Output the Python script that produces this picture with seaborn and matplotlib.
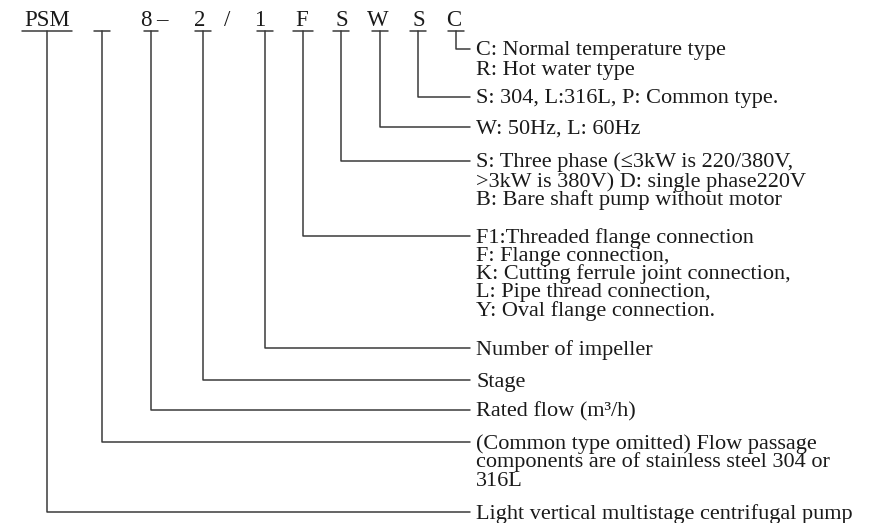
import pandas as pd
import matplotlib
matplotlib.use("Agg")
from matplotlib import pyplot as plt
import seaborn as sns

# Model code pieces (left to right) and their descriptions
codes = ["PSM", "", "8", "2", "1", "F", "S", "W", "S", "C"]
separators = ["–", "/"]
descriptions = [
    ["Light vertical multistage centrifugal pump"],
    ["(Common type omitted) Flow passage",
     "components are of stainless steel 304 or",
     "316L"],
    ["Rated flow (m³/h)"],
    ["Stage"],
    ["Number of impeller"],
    ["F1:Threaded flange connection",
     "F: Flange connection,",
     "K: Cutting ferrule joint connection,",
     "L: Pipe thread connection,",
     "Y: Oval flange connection."],
    ["S: Three phase (≤3kW is 220/380V,",
     ">3kW is 380V) D: single phase220V",
     "B: Bare shaft pump without motor"],
    ["W: 50Hz, L: 60Hz"],
    ["S: 304, L:316L, P: Common type."],
    ["C: Normal temperature type",
     "R: Hot water type"],
]

# layout (pixel space)
code_x = [47, 102, 146, 200, 260, 302, 342, 378, 419, 454]
stem_x = [47, 102, 151, 203, 265, 303, 341, 380, 418, 456]
under_w = [25, 8, 7, 8, 8, 10, 8, 8, 8, 8]
bracket_y = [512, 442, 410, 380, 348, 236, 161, 127, 97, 49]
block_gap = [19, 19, 19, 19, 19, 18.3, 19, 19, 19, 20]
sep_x = [162, 227]
text_x = 476
line_end = 470
under_y = 31

sns.set_style("white")
plt.rcParams['font.family'] = ['Liberation Serif', 'DejaVu Serif']

rows = []
for i, (sx, uw, by) in enumerate(zip(stem_x, under_w, bracket_y)):
    rows.append(dict(x=sx - uw, y=under_y, seg=f"u{i}"))
    rows.append(dict(x=sx + uw, y=under_y, seg=f"u{i}"))
    rows.append(dict(x=sx, y=under_y, seg=f"b{i}"))
    rows.append(dict(x=sx, y=by, seg=f"b{i}"))
    rows.append(dict(x=line_end, y=by, seg=f"b{i}"))
df = pd.DataFrame(rows)

fig = plt.figure(figsize=(8.76, 5.23), dpi=100)
ax = fig.add_axes([0, 0, 1, 1])
sns.lineplot(data=df, x="x", y="y", units="seg", estimator=None, sort=False,
             color="#3a3a3a", linewidth=1.1, ax=ax, legend=False)

for c, cx in zip(codes, code_x):
    ax.text(cx, 26, c, ha="center", va="baseline", fontsize=16.5, color="#1a1a1a")
for s, sx in zip(separators, sep_x):
    ax.text(sx, 26, s, ha="center", va="baseline", fontsize=16.5, color="#1a1a1a")

for lines, by, gap in zip(descriptions, bracket_y, block_gap):
    for k, line in enumerate(lines):
        ax.text(text_x, by + 6.5 + k * gap, line, ha="left", va="baseline",
                fontsize=16, color="#1a1a1a")

ax.set_xlim(0, 876)
ax.set_ylim(523, 0)
ax.axis("off")
fig.savefig("out.png", dpi=100)
